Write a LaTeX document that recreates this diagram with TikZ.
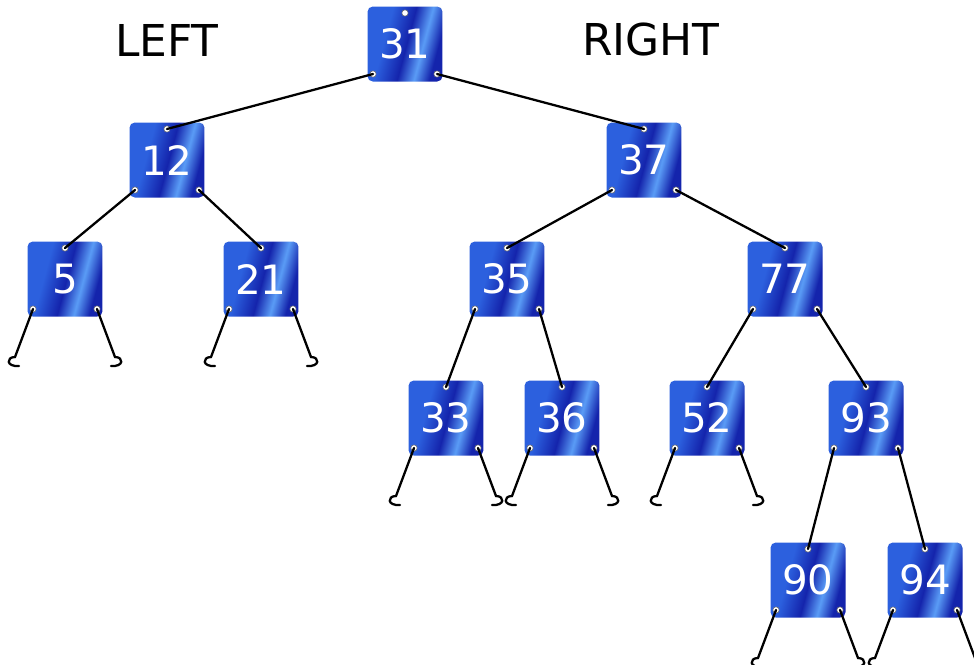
\documentclass[tikz,border=0pt]{standalone}
\usepackage{fontspec}
\newfontfamily\tagfont{DejaVu Sans}
\usepackage{tikz}
\usetikzlibrary{calc}

\definecolor{tagdark}{RGB}{20,36,172}
\definecolor{tagmid}{RGB}{44,96,222}
\definecolor{taglight}{RGB}{90,156,246}
\pgfdeclarehorizontalshading{tagshade}{100bp}{color(0bp)=(tagmid); color(25bp)=(tagmid); color(36bp)=(tagmid); color(51bp)=(tagdark); color(62bp)=(taglight); color(72bp)=(tagdark); color(100bp)=(tagdark)}

% holes of a tag: top, bottom left, bottom right
\newcommand{\tagholes}[1]{%
  \coordinate (#1-t) at ($(#1)+(0,-31)$);
  \coordinate (#1-l) at ($(#1)+(-32,30)$);
  \coordinate (#1-r) at ($(#1)+(32,30)$);
  \foreach \h in {t,l,r} \draw[hole] (#1-\h) circle[radius=1.8pt];}

\begin{document}
\begin{tikzpicture}[x=0.02cm,y=-0.02cm]
		\tikzstyle{tag}=[rectangle, rounded corners=3pt, minimum size=1.5cm, inner sep=0pt, shade, shading=tagshade, shading angle=-15, text=white, font=\tagfont\fontsize{23}{23}\selectfont]
		\tikzstyle{link}=[line width=1.3pt, black, line cap=round]
		\tikzstyle{hole}=[fill=white, draw=black!60, line width=0.3pt]
		\tikzstyle{side}=[font=\tagfont\fontsize{25}{25}\selectfont]
		\tikzset{lhook/.pic={\draw[link] (0,0) -- (-18,48) .. controls (-27,48) and (-27,58) .. (-14,57);},
			rhook/.pic={\draw[link] (0,0) -- (18,48) .. controls (27,48) and (27,58) .. (14,57);}}

		\useasboundingbox (0,0) rectangle (974,664);

		\node [side] (left) at (167,40) {LEFT};
		\node [side] (right) at (651,40) {RIGHT};

		\node [tag] (n31) at (405,44) {31};
		\node [tag] (n12) at (167,160) {12};
		\node [tag] (n37) at (644,160) {37};
		\node [tag] (n5) at (65,279) {5};
		\node [tag] (n21) at (261,279) {21};
		\node [tag] (n35) at (507,279) {35};
		\node [tag] (n77) at (785,279) {77};
		\node [tag] (n33) at (446,418) {33};
		\node [tag] (n36) at (562,418) {36};
		\node [tag] (n52) at (707,418) {52};
		\node [tag] (n93) at (866,418) {93};
		\node [tag] (n90) at (808,580) {90};
		\node [tag] (n94) at (925,580) {94};

		\foreach \n in {n31,n12,n37,n5,n21,n35,n77,n33,n36,n52,n93,n90,n94}
			\tagholes{\n};

		\foreach \a/\b in {n31-l/n12,n31-r/n37,n12-l/n5,n12-r/n21,n37-l/n35,n37-r/n77,
				n35-l/n33,n35-r/n36,n77-l/n52,n77-r/n93,n93-l/n90,n93-r/n94}
			\draw[link] (\a) -- (\b-t);

		% empty subtrees
		\foreach \n in {n5,n21,n33,n36,n52,n90,n94} {
			\pic at (\n-l) {lhook};
			\pic at (\n-r) {rhook};
		}
	\end{tikzpicture}
\end{document}
